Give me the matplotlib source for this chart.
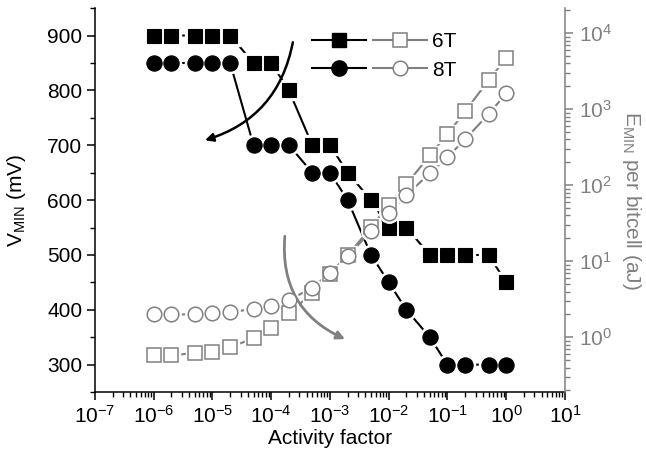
import matplotlib
matplotlib.use("Agg")
import matplotlib.pyplot as plt
from matplotlib.lines import Line2D
from matplotlib.legend_handler import HandlerTuple
from matplotlib.ticker import MultipleLocator, LogLocator, NullFormatter

plt.rcParams['font.family'] = ['Liberation Sans', 'DejaVu Sans']
plt.rcParams['mathtext.default'] = 'regular'
plt.rcParams['font.size'] = 15

# activity factor (x) for every point
activity = [1e-6, 2e-6, 5e-6, 1e-5, 2e-5, 5e-5, 1e-4, 2e-4, 5e-4, 1e-3,
            2e-3, 5e-3, 1e-2, 2e-2, 5e-2, 0.1, 0.2, 0.5, 1.0]

# VMIN (mV), left axis
vmin_6t = [900, 900, 900, 900, 900, 850, 850, 800, 700, 700,
           650, 600, 550, 550, 500, 500, 500, 500, 450]
vmin_8t = [850, 850, 850, 850, 850, 700, 700, 700, 650, 650,
           600, 500, 450, 400, 350, 300, 300, 300, 300]

# EMIN per bitcell (aJ), right axis
emin_6t = [0.58, 0.58, 0.62, 0.64, 0.74, 0.97, 1.31, 2.07, 3.8, 6.9,
           12, 28, 55, 103, 247, 470, 940, 2400, 4700]
emin_8t = [2.0, 2.0, 2.0, 2.07, 2.14, 2.35, 2.6, 3.07, 4.5, 7.1,
           11.6, 25, 43, 74, 144, 234, 404, 860, 1620]

GRAY = '#808080'


def series(ax, x, y, color, marker, ms, filled):
    # Origin style: line stops short of the symbols (white halo under marker)
    ax.plot(x, y, color=color, lw=1.5, zorder=2)
    ax.plot(x, y, ls='none', marker=marker, ms=ms + 3.5, color='white',
            mec='white', zorder=3)
    if filled:
        ax.plot(x, y, ls='none', marker=marker, ms=ms, color=color,
                mec=color, mew=0.8, zorder=4)
    else:
        ax.plot(x, y, ls='none', marker=marker, ms=ms, mfc='white',
                mec=color, mew=1.1, zorder=4)


fig = plt.figure(figsize=(6.46, 4.57), dpi=100)
ax = fig.add_axes([0.147, 0.142, 0.7276, 0.8403])
ax2 = ax.twinx()

series(ax, activity, vmin_6t, 'black', 's', 10.5, True)
series(ax, activity, vmin_8t, 'black', 'o', 11, True)
series(ax2, activity, emin_6t, GRAY, 's', 9.5, False)
series(ax2, activity, emin_8t, GRAY, 'o', 10.5, False)

ax.set_xscale('log')
ax.set_xlim(1e-7, 1e1)
ax.xaxis.set_major_locator(LogLocator(base=10, numticks=20))
ax.xaxis.set_minor_locator(LogLocator(base=10, subs=range(2, 10), numticks=20))
ax.xaxis.set_minor_formatter(NullFormatter())
ax.set_ylim(250, 950)
ax.yaxis.set_major_locator(MultipleLocator(100))
ax.yaxis.set_minor_locator(MultipleLocator(50))

ax2.set_yscale('log')
ax2.set_ylim(0.19, 21400)
ax2.yaxis.set_major_locator(LogLocator(base=10, numticks=20))
ax2.yaxis.set_minor_locator(LogLocator(base=10, subs=range(2, 10), numticks=20))
ax2.yaxis.set_minor_formatter(NullFormatter())

for a in (ax, ax2):
    a.spines['top'].set_visible(False)
    for s in a.spines.values():
        s.set_linewidth(1.1)
ax.spines['right'].set_visible(False)
ax2.spines['left'].set_visible(False)
ax2.spines['bottom'].set_visible(False)
ax2.spines['right'].set_color(GRAY)

ax.tick_params(which='major', direction='out', length=6, width=1.1, pad=3)
ax.tick_params(which='minor', direction='out', length=3.5, width=1)
ax2.tick_params(which='major', direction='out', length=6, width=1.1, pad=4,
                colors=GRAY)
ax2.tick_params(which='minor', direction='out', length=3.5, width=1,
                colors=GRAY)

ax.set_xlabel('Activity factor', labelpad=2)
ax.set_ylabel('V$_{MIN}$ (mV)', labelpad=14)
ax2.set_ylabel('E$_{MIN}$ per bitcell (aJ)', color=GRAY, rotation=270,
               labelpad=22)

# curved arrows
ax2.annotate('', xy=(0.234, 0.656), xytext=(0.421, 0.911),
             xycoords='axes fraction',
             arrowprops=dict(arrowstyle='-|>', connectionstyle='arc3,rad=-0.3',
                             color='black', lw=1.8, mutation_scale=12,
                             shrinkA=0, shrinkB=0))
ax2.annotate('', xy=(0.532, 0.138), xytext=(0.404, 0.406),
             xycoords='axes fraction',
             arrowprops=dict(arrowstyle='-|>', connectionstyle='arc3,rad=0.35',
                             color=GRAY, lw=2, mutation_scale=12,
                             shrinkA=0, shrinkB=0))

h6 = (Line2D([], [], color='black', lw=1.5, marker='s', ms=10.5),
      Line2D([], [], color=GRAY, lw=1.5, marker='s', ms=9.5, mfc='white',
             mec=GRAY, mew=1.1))
h8 = (Line2D([], [], color='black', lw=1.5, marker='o', ms=11),
      Line2D([], [], color=GRAY, lw=1.5, marker='o', ms=10.5, mfc='white',
             mec=GRAY, mew=1.1))
ax2.legend([h6, h8], ['6T', '8T'],
           handler_map={tuple: HandlerTuple(ndivide=None, pad=0.34)},
           handlelength=5.5, handletextpad=0.25, labelspacing=0.45,
           frameon=False, loc='upper left', bbox_to_anchor=(0.462, 0.937),
           borderpad=0, borderaxespad=0)

fig.savefig('out.png', dpi=100)
